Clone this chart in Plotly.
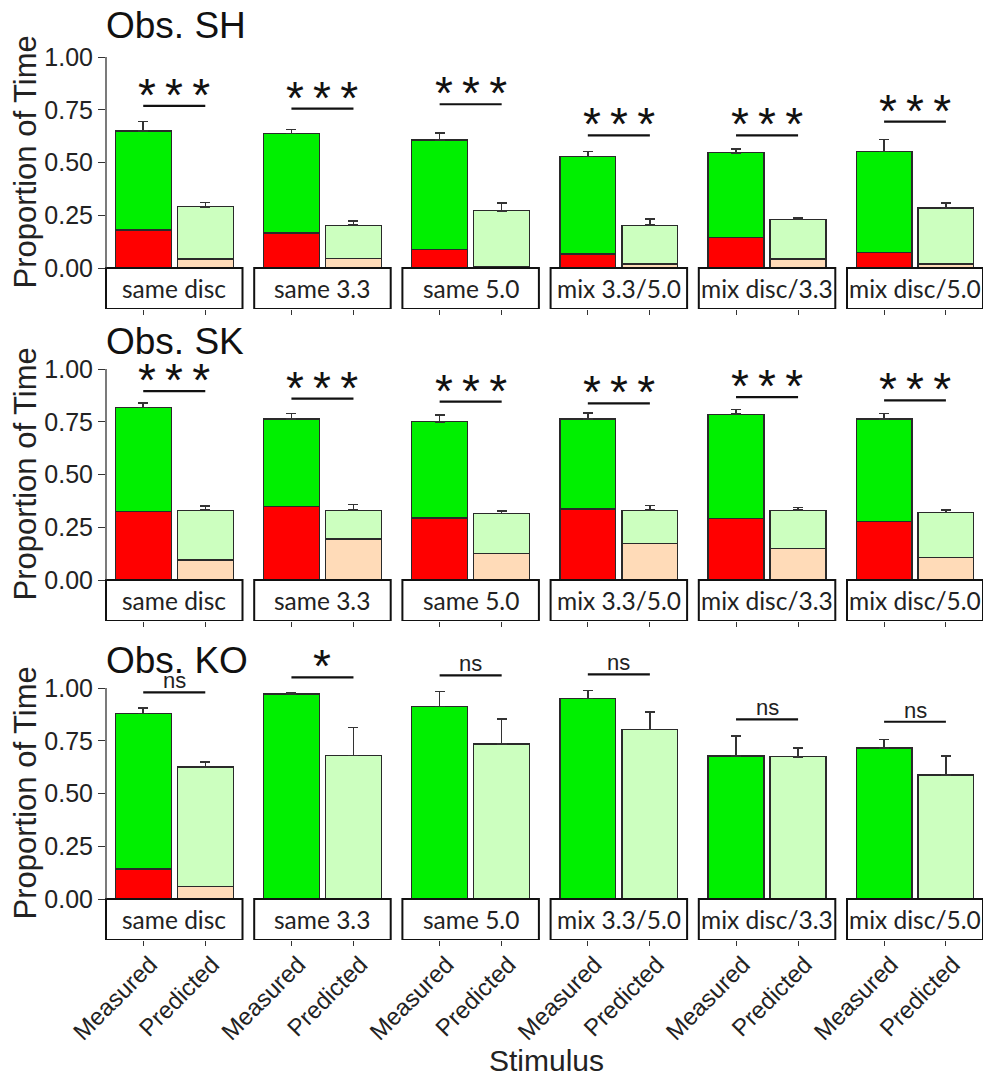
import plotly.graph_objects as go

W, H = 983, 1076

observers = ["Obs. SH", "Obs. SK", "Obs. KO"]
stimuli = ["same disc", "same 3.3", "same 5.0", "mix 3.3/5.0", "mix disc/3.3", "mix disc/5.0"]
conditions = ["Measured", "Predicted"]

# Measured bar totals, red (bottom) part, error
meas_total = [
    [0.65, 0.637, 0.606, 0.528, 0.546, 0.552],
    [0.818, 0.763, 0.750, 0.763, 0.786, 0.763],
    [0.879, 0.971, 0.913, 0.950, 0.678, 0.716],
]
meas_red = [
    [0.18, 0.166, 0.087, 0.066, 0.145, 0.074],
    [0.324, 0.348, 0.294, 0.336, 0.293, 0.277],
    [0.142, 0.0, 0.0, 0.0, 0.0, 0.0],
]
meas_err = [
    [0.045, 0.02, 0.033, 0.024, 0.019, 0.058],
    [0.02, 0.025, 0.032, 0.028, 0.022, 0.025],
    [0.027, 0.005, 0.071, 0.039, 0.094, 0.039],
]
# Predicted bar totals, peach (bottom) part, error
pred_total = [
    [0.29, 0.203, 0.271, 0.203, 0.229, 0.284],
    [0.331, 0.331, 0.315, 0.331, 0.331, 0.319],
    [0.625, 0.680, 0.735, 0.804, 0.674, 0.588],
]
pred_peach = [
    [0.043, 0.046, 0.005, 0.019, 0.043, 0.019],
    [0.095, 0.195, 0.127, 0.174, 0.150, 0.108],
    [0.059, 0.0, 0.0, 0.0, 0.0, 0.0],
]
pred_err = [
    [0.02, 0.02, 0.038, 0.029, 0.009, 0.025],
    [0.02, 0.028, 0.011, 0.022, 0.012, 0.012],
    [0.025, 0.132, 0.119, 0.083, 0.042, 0.090],
]
sig_label = [
    ["***"] * 6,
    ["***"] * 6,
    ["ns", "*", "ns", "ns", "ns", "ns"],
]
sig_height = [
    [0.768, 0.755, 0.776, 0.629, 0.629, 0.694],
    [0.895, 0.860, 0.845, 0.837, 0.867, 0.851],
    [0.979, 1.05, 1.06, 1.065, 0.851, 0.84],
]

GREEN, RED, LGREEN, PEACH = "#00F000", "#FF0000", "#CCFFBF", "#FFDBB8"
EDGE = "#2a2a2a"
FONT = "Liberation Sans, Arial, sans-serif"

# layout geometry (pixels)
zero_px = [268, 580, 899]
ymax = [1.05, 1.05, 1.17]
ymin = -0.194
scale = 211.0
col_left = [106 + i * 148.2 for i in range(6)]
col_w = 136.5

fig = go.Figure()
layout = dict(width=W, height=H, margin=dict(l=0, r=0, t=0, b=0, autoexpand=False),
              paper_bgcolor="white", plot_bgcolor="white",
              barmode="stack", showlegend=False, bargap=0.1)
shapes, annotations = [], []

def py(px):
    return 1 - px / H

for r in range(3):
    top_px = zero_px[r] - ymax[r] * scale
    bot_px = zero_px[r] - ymin * scale
    for c in range(6):
        n = r * 6 + c + 1
        xa = "x" if n == 1 else f"x{n}"
        ya = "y" if n == 1 else f"y{n}"
        xk = "xaxis" if n == 1 else f"xaxis{n}"
        yk = "yaxis" if n == 1 else f"yaxis{n}"
        x0 = col_left[c] / W
        x1 = min((col_left[c] + col_w) / W, 1.0)
        layout[xk] = dict(domain=[x0, x1], anchor=ya, type="category",
                          range=[-0.6, 1.6], showgrid=False, zeroline=False,
                          showline=False, ticks="outside", ticklen=5,
                          tickcolor="#333", tickwidth=1.2, automargin=False,
                          showticklabels=(r == 2), tickangle=-45,
                          ticklabelshift=7, ticklabelstandoff=-5,
                          tickfont=dict(family=FONT, size=24, color="#222"),
                          fixedrange=True)
        layout[yk] = dict(domain=[py(bot_px), py(top_px)], anchor=xa,
                          range=[ymin, ymax[r]], showgrid=False, zeroline=False,
                          showline=False, automargin=False,
                          tickvals=[0, 0.25, 0.5, 0.75, 1.0],
                          ticktext=["0.00", "0.25", "0.50", "0.75", "1.00"],
                          ticks="outside" if c == 0 else "", ticklen=7,
                          tickcolor="#333", tickwidth=1.2,
                          showticklabels=(c == 0),
                          tickfont=dict(family=FONT, size=25, color="#222"),
                          fixedrange=True)
        bottoms = [meas_red[r][c], pred_peach[r][c]]
        tops = [meas_total[r][c] - meas_red[r][c], pred_total[r][c] - pred_peach[r][c]]
        fig.add_trace(go.Bar(x=conditions, y=bottoms, xaxis=xa, yaxis=ya,
                             width=0.9, marker=dict(color=[RED, PEACH],
                             line=dict(color=EDGE, width=1.3))))
        fig.add_trace(go.Bar(x=conditions, y=tops, xaxis=xa, yaxis=ya,
                             width=0.9, marker=dict(color=[GREEN, LGREEN],
                             line=dict(color=EDGE, width=1.3)),
                             error_y=dict(type="data", symmetric=False,
                                          array=[meas_err[r][c], pred_err[r][c]],
                                          arrayminus=[0, 0], color="#333",
                                          thickness=1.5, width=5)))
        # strip box
        shapes.append(dict(type="rect", xref=f"{xa} domain", yref=ya,
                           x0=0, x1=1, y0=ymin, y1=0, fillcolor="white",
                           line=dict(color="#111", width=2), layer="above"))
        annotations.append(dict(text=stimuli[c], xref=f"{xa} domain", yref=ya,
                                x=0.5, y=ymin / 2, showarrow=False,
                                font=dict(family="Lato, Open Sans, sans-serif",
                                          size=24.5, color="#222")))
        # significance bracket
        h = sig_height[r][c]
        shapes.append(dict(type="line", xref=xa, yref=ya, x0=0, x1=1, y0=h, y1=h,
                           line=dict(color="#111", width=2.2)))
        lab = sig_label[r][c]
        if lab == "ns":
            annotations.append(dict(text="ns", xref=xa, yref=ya, x=0.5, y=h,
                                    yanchor="bottom", showarrow=False, yshift=-3,
                                    font=dict(family=FONT, size=22, color="#222")))
        else:
            annotations.append(dict(text="\u2009".join(lab), xref=xa, yref=ya, x=0.5, y=h,
                                    yanchor="bottom", showarrow=False, yshift=-17,
                                    font=dict(family=FONT, size=46, color="#111")))
        if c == 0:
            shapes.append(dict(type="line", xref=f"{xa} domain", yref=ya,
                               x0=0, x1=0, y0=0, y1=1,
                               line=dict(color="#333", width=1.3)))
    # row title
    annotations.append(dict(text=observers[r], xref="paper", yref="paper",
                            x=104 / W, y=py([25, 342, 660][r]), xanchor="left",
                            yanchor="middle", showarrow=False,
                            font=dict(family=FONT, size=37, color="#111")))
    annotations.append(dict(text="Proportion of Time", xref="paper", yref="paper",
                            x=25 / W, y=py(zero_px[r] - 0.5 * scale), textangle=-90,
                            xanchor="center", yanchor="middle", showarrow=False,
                            font=dict(family=FONT, size=31, color="#222")))

annotations.append(dict(text="Stimulus", xref="paper", yref="paper",
                        x=546 / W, y=py(1060), showarrow=False,
                        xanchor="center", yanchor="middle",
                        font=dict(family=FONT, size=30, color="#222")))

layout["shapes"] = shapes
layout["annotations"] = annotations
fig.update_layout(**layout)
fig.write_html("out.html")
